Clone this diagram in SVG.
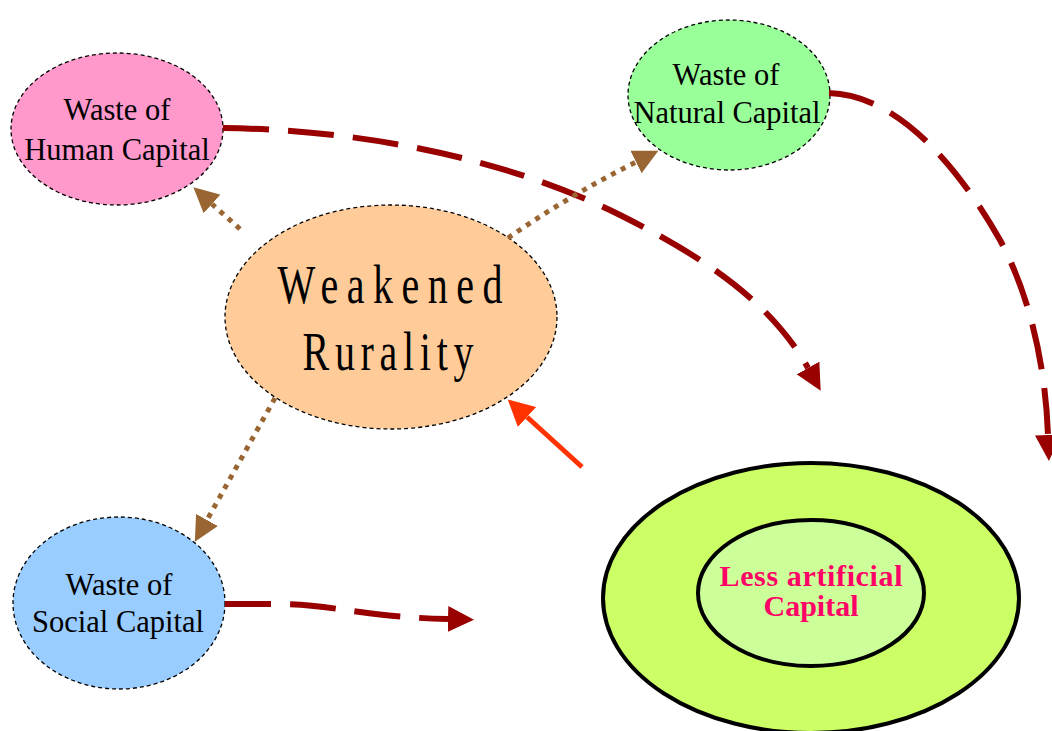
<svg xmlns="http://www.w3.org/2000/svg" width="1052" height="731" viewBox="0 0 1052 731">
<style>
.node{stroke:#000;stroke-width:1.3;stroke-dasharray:4 3}
.lbl{font-family:"Liberation Serif","Times New Roman",serif;font-size:30.5px;fill:#000;text-anchor:middle}
.big{font-family:"Liberation Serif","Times New Roman",serif;font-size:40px;fill:#000;text-anchor:middle}
.cap{font-family:"Liberation Serif","Times New Roman",serif;font-size:30px;font-weight:bold;fill:#FF0066;text-anchor:middle}
.red{fill:none;stroke:#990000;stroke-width:6;stroke-dasharray:46 19}
.brown{fill:none;stroke:#996633;stroke-width:5;stroke-dasharray:5 6}
.orange{fill:none;stroke:#FF3300;stroke-width:5}
</style>
<defs>
<marker id="ar" markerUnits="userSpaceOnUse" markerWidth="27" markerHeight="27" refX="0" refY="13" orient="auto"><path d="M0,0 L26,13 L0,26 z" fill="#990000"/></marker>
<marker id="ab" markerUnits="userSpaceOnUse" markerWidth="26" markerHeight="26" refX="0" refY="12.5" orient="auto"><path d="M0,0 L25,12.5 L0,25 z" fill="#996633"/></marker>
<marker id="ao" markerUnits="userSpaceOnUse" markerWidth="27" markerHeight="28" refX="0" refY="13.5" orient="auto"><path d="M0,0 L26,13.5 L0,27 z" fill="#FF3300"/></marker>
</defs>
<g id="artificial">
<ellipse cx="811" cy="598" rx="208" ry="135" fill="#CCFF66" stroke="#000" stroke-width="4"/>
<ellipse cx="811" cy="593" rx="113" ry="73" fill="#CCFF99" stroke="#000" stroke-width="4"/>
<text class="cap" x="811" y="586" textLength="183" lengthAdjust="spacing">Less artificial</text>
<text class="cap" x="811" y="616">Capital</text>
</g>
<g id="human">
<ellipse class="node" cx="117" cy="129" rx="106" ry="76" fill="#FF99CC"/>
<text class="lbl" x="117" y="120">Waste of</text>
<text class="lbl" x="117" y="160">Human Capital</text>
</g>
<g id="natural">
<ellipse class="node" cx="729" cy="95" rx="101" ry="75" fill="#99FF99"/>
<text class="lbl" x="726" y="85">Waste of</text>
<text class="lbl" x="727" y="123">Natural Capital</text>
</g>
<g id="social">
<ellipse class="node" cx="119" cy="603" rx="106" ry="86" fill="#99CCFF"/>
<text class="lbl" x="119" y="595">Waste of</text>
<text class="lbl" x="118" y="632">Social Capital</text>
</g>
<g id="rurality">
<ellipse class="node" cx="391" cy="317" rx="166" ry="112" fill="#FFCC99"/>
<text class="big" transform="translate(390,303) scale(1,1.38)" textLength="225" lengthAdjust="spacing">Weakened</text>
<text class="big" transform="translate(388,370) scale(1,1.36)" textLength="171" lengthAdjust="spacing">Rurality</text>
</g>
<g id="connectors">
<path class="red" d="M223,128 C380,130 520,165 620,215 C700,255 770,300 808,368" marker-end="url(#ar)"/>
<path class="red" d="M829,93 C900,95 960,170 1000,240 C1035,305 1046,380 1048,435" marker-end="url(#ar)"/>
<path class="red" d="M225,604 L273,604 C310,604 330,608 360,612 C390,616 410,618 448,619" marker-end="url(#ar)"/>
<path class="brown" d="M240,229 L212,204" marker-end="url(#ab)"/>
<path class="brown" d="M508,238 Q570,195 636,162" marker-end="url(#ab)"/>
<path class="brown" d="M275,398 L207,520" marker-end="url(#ab)"/>
<path class="orange" d="M582,467 L527,417" marker-end="url(#ao)"/>
</g>
</svg>
